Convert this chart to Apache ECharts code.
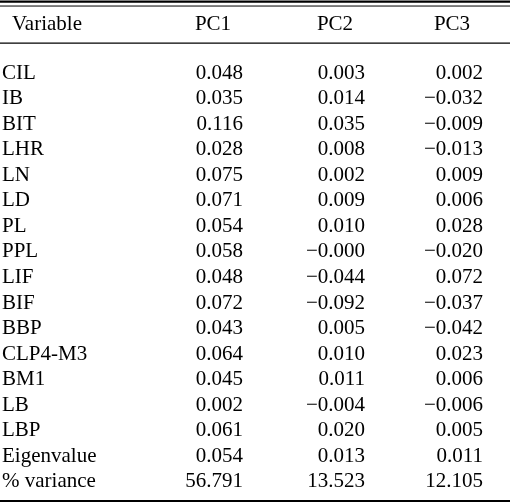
<!DOCTYPE html>
<html><head><meta charset="utf-8">
<script src="https://cdn.jsdelivr.net/npm/echarts@6/dist/echarts.min.js"></script>
<style>html,body{margin:0;padding:0;background:#fff}#c{width:510px;height:504px}</style>
</head><body><div id="c"></div>
<script>
const headers = ['Variable', 'PC1', 'PC2', 'PC3'];
const variables = ['CIL','IB','BIT','LHR','LN','LD','PL','PPL','LIF','BIF','BBP','CLP4-M3','BM1','LB','LBP','Eigenvalue','% variance'];
const pc1 = ['0.048','0.035','0.116','0.028','0.075','0.071','0.054','0.058','0.048','0.072','0.043','0.064','0.045','0.002','0.061','0.054','56.791'];
const pc2 = ['0.003','0.014','0.035','0.008','0.002','0.009','0.010','\u22120.000','\u22120.044','\u22120.092','0.005','0.010','0.011','\u22120.004','0.020','0.013','13.523'];
const pc3 = ['0.002','\u22120.032','\u22120.009','\u22120.013','0.009','0.006','0.028','\u22120.020','0.072','\u22120.037','\u22120.042','0.023','0.006','\u22120.006','0.005','0.011','12.105'];

// layout (style) constants
const FONT = '"Liberation Serif","Times New Roman",serif';
const FS = 21;
const colX = { label: 2, header0: 12, pc1: 243, pc2: 365, pc3: 483 };
const hdrCenter = [null, 213, 335, 452];
const HEADER_ROW = -1.88;
const rules = [ {y: -2.79, w: 2.2}, {y: -2.62, w: 1}, {y: -1.17, w: 1.4}, {y: 16.74, w: 2} ];

const cells = [];
variables.forEach((v, i) => {
  cells.push([colX.label, i, v, 'left']);
  cells.push([colX.pc1, i, pc1[i], 'right']);
  cells.push([colX.pc2, i, pc2[i], 'right']);
  cells.push([colX.pc3, i, pc3[i], 'right']);
});
headers.forEach((h, j) => {
  if (j === 0) cells.push([colX.header0, HEADER_ROW, h, 'left']);
  else cells.push([hdrCenter[j], HEADER_ROW, h, 'center']);
});
const ruleData = rules.map(r => [0, r.y, r.w]);

const chart = echarts.init(document.getElementById('c'));
chart.setOption({
  animation: false,
  grid: { left: 0, right: 0, top: 0, bottom: 0 },
  xAxis: { type: 'value', min: 0, max: 510, show: false },
  yAxis: { type: 'value', min: -2.856, max: 16.862, inverse: true, show: false },
  series: [
    {
      type: 'custom',
      data: ruleData,
      renderItem: (params, api) => {
        const p1 = api.coord([0, api.value(1)]);
        const p2 = api.coord([510, api.value(1)]);
        return { type: 'line', shape: { x1: p1[0], y1: p1[1], x2: p2[0], y2: p2[1] },
                 style: { stroke: '#000', lineWidth: api.value(2) } };
      }
    },
    {
      type: 'custom',
      data: cells,
      renderItem: (params, api) => {
        const d = cells[params.dataIndex];
        const p = api.coord([d[0], d[1]]);
        return { type: 'text', x: p[0], y: p[1],
                 style: { text: d[2], fill: '#000', font: FS + 'px ' + FONT, align: d[3], verticalAlign: 'middle' } };
      }
    }
  ]
});
</script></body></html>
